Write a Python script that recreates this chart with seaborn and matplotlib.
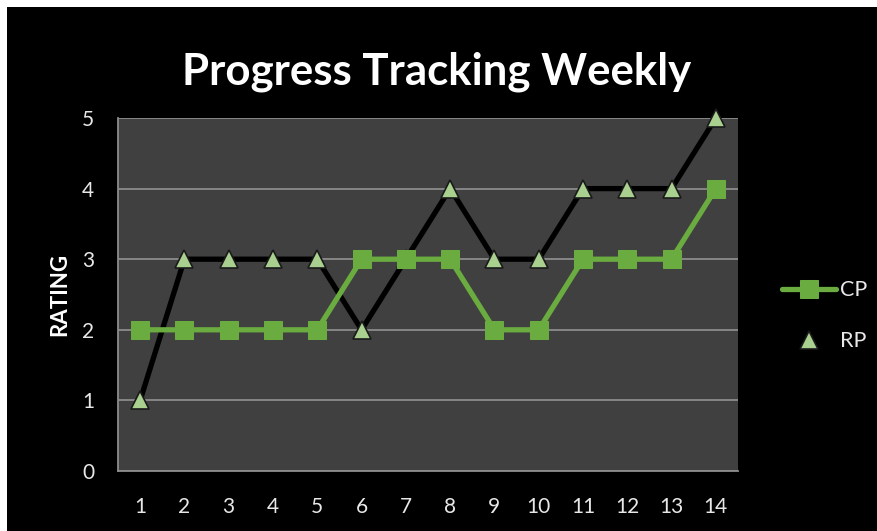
import matplotlib
matplotlib.use("Agg")
import matplotlib.pyplot as plt
from matplotlib.patches import Rectangle
import pandas as pd
import seaborn as sns

weeks = list(range(1, 15))
cp = [2, 2, 2, 2, 2, 3, 3, 3, 2, 2, 3, 3, 3, 4]
rp = [1, 3, 3, 3, 3, 2, 3, 4, 3, 3, 4, 4, 4, 5]

df = pd.DataFrame({"week": weeks, "CP": cp, "RP": rp})

sns.set_style("dark")
plt.rcParams['font.family'] = ['Lato', 'DejaVu Sans']

fig = plt.figure(figsize=(8.78, 5.31), dpi=100, facecolor='white')
# black chart area inside a thin white frame
fig.patches.append(Rectangle((7 / 878, 0), 870 / 878, 524 / 531, transform=fig.transFigure,
                             facecolor='black', edgecolor='none', zorder=-10))
ax = fig.add_axes([118 / 878, 60 / 531, 620 / 878, 353 / 531])
ax.set_facecolor('#404040')

sns.lineplot(data=df, x="week", y="RP", ax=ax, color='black', linewidth=3.8,
             marker='^', markersize=13, markerfacecolor='#a9d08e',
             markeredgecolor='#1a1a1a', markeredgewidth=1.2, label='RP', zorder=3,
             clip_on=False)
sns.lineplot(data=df, x="week", y="CP", ax=ax, color='#6aac3f', linewidth=3.8,
             marker='s', markersize=13.5, markerfacecolor='#6aac3f',
             markeredgecolor='#6aac3f', label='CP', zorder=4, clip_on=False)

ax.set_xlim(0.5, 14.5)
ax.set_ylim(0, 5)
ax.set_xticks(weeks)
ax.set_yticks(range(0, 6))
ax.grid(axis='y', color='#8c8c8c', linewidth=1.3)
ax.grid(axis='x', visible=False)
ax.set_axisbelow(True)
for side in ['top', 'right']:
    ax.spines[side].set_visible(False)
for side in ['left', 'bottom']:
    ax.spines[side].set_visible(True)
    ax.spines[side].set_color('#8c8c8c')
    ax.spines[side].set_linewidth(1.3)
ax.tick_params(colors='#e8e8e8', labelsize=15, length=0)
ax.tick_params(axis='x', pad=19)
ax.tick_params(axis='y', pad=17)
ax.set_xlabel('')
ax.set_ylabel('RATING', color='white', fontsize=16, fontweight='bold', labelpad=9)

fig.text(0.497, 0.865, 'Progress Tracking Weekly', color='white', fontsize=31.5,
         fontweight='bold', ha='center', va='center')

handles, labels = ax.get_legend_handles_labels()
order = [labels.index('CP'), labels.index('RP')]
leg = ax.legend([handles[i] for i in order], [labels[i] for i in order],
                loc='center left', bbox_to_anchor=(1.04, 0.44), frameon=False,
                fontsize=15.5, labelspacing=1.45, handlelength=2.5, handletextpad=0.2)
for t in leg.get_texts():
    t.set_color('#e8e8e8')

fig.savefig('out.png', dpi=100, facecolor=fig.get_facecolor())
